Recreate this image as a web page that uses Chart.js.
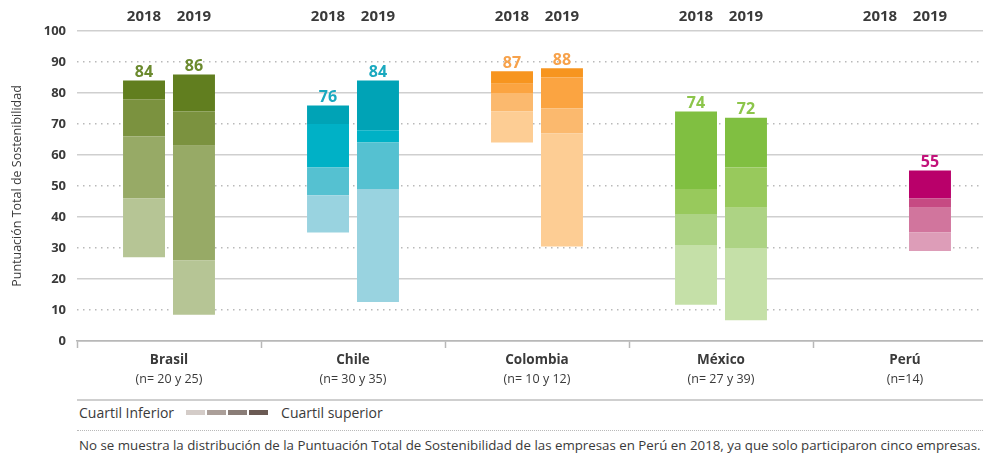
<!DOCTYPE html>
<html>
<head>
<meta charset="utf-8">
<script src="https://cdn.jsdelivr.net/npm/chart.js@4"></script>
<style>
  html, body { margin: 0; padding: 0; background: #fff; overflow: hidden; width: 983px; height: 459px; }
  body { position: relative; font-family: "Open Sans", sans-serif; color: #3a3a3a; }
  #wrap { position: absolute; left: 0; top: 0; width: 1000px; height: 395px; }
  .rule { position: absolute; left: 77px; width: 906px; }
  #solid { top: 399px; height: 2px; background: #cfcfcf; }
  #dots { top: 430px; border-top: 1.5px dotted #b9b9b9; }
  #legend { position: absolute; left: 79px; top: 403px; font-size: 14px; display: flex; align-items: center; }
  #legend .sw { display: inline-block; width: 19px; height: 5px; margin-right: 2px; }
  #note { position: absolute; left: 79px; top: 436px; font-size: 13.3px; white-space: nowrap; }
</style>
</head>
<body>
<div id="wrap"><canvas id="chart" width="1000" height="395"></canvas></div>
<div class="rule" id="solid"></div>
<div id="legend">
  <span>Cuartil Inferior</span>
  <span style="width:12px;display:inline-block"></span>
  <span class="sw" style="background:#d4ccc8"></span>
  <span class="sw" style="background:#ab9f99"></span>
  <span class="sw" style="background:#8a7d77"></span>
  <span class="sw" style="background:#6b5a54"></span>
  <span style="width:11px;display:inline-block"></span>
  <span>Cuartil superior</span>
</div>
<div class="rule" id="dots"></div>
<div id="note">No se muestra la distribución de la Puntuación Total de Sostenibilidad de las empresas en Perú en 2018, ya que solo participaron cinco empresas.</div>
<script>
// datos
const countries = ['Brasil', 'Chile', 'Colombia', 'México', 'Perú'];
const sampleSizes = ['(n= 20 y 25)', '(n= 30 y 35)', '(n= 10 y 12)', '(n= 27 y 39)', '(n=14)'];
const years = ['2018', '2019'];

const min2018 = [27, 35, 64, 11.7, null];
const q1_2018 = [46, 47, 74, 31, null];
const med2018 = [66, 56, 80, 41, null];
const q3_2018 = [78, 70, 83, 49, null];
const max2018 = [84, 76, 87, 74, null];

const min2019 = [8.5, 12.6, 30.5, 6.7, 29];
const q1_2019 = [26, 49, 67, 30, 35];
const med2019 = [63, 64, 75, 43, 43];
const q3_2019 = [74, 68, 85, 56, 46];
const max2019 = [86, 84, 88, 72, 55];

const yTicks = [0, 10, 20, 30, 40, 50, 60, 70, 80, 90, 100];

// colores por país, del cuartil inferior al superior
const shades = {
  Brasil: ['#b6c595', '#97aa66', '#7b923f', '#617e1f'],
  Chile: ['#99d3e0', '#55c1d1', '#00b1c6', '#00a3b6'],
  Colombia: ['#fdcd94', '#fbb96e', '#fba441', '#f7951f'],
  'México': ['#c5e0a8', '#add384', '#98c95c', '#80bf41'],
  'Perú': ['#dd9db8', '#d1759d', '#c64a83', '#b9006a'],
};
const labelColors = ['#6b8a2e', '#1aa9bf', '#f7a24b', '#8cc54a', '#c2127a'];

const bounds = {
  '2018': [min2018, q1_2018, med2018, q3_2018, max2018],
  '2019': [min2019, q1_2019, med2019, q3_2019, max2019],
};

function floating(lo, hi) {
  return lo.map((v, i) => (v == null || hi[i] == null ? null : [v, hi[i]]));
}

const datasets = [];
years.forEach((yr) => {
  const b = bounds[yr];
  for (let q = 0; q < 4; q++) {
    datasets.push({
      label: yr + ' Q' + (q + 1),
      stack: yr,
      data: floating(b[q], b[q + 1]),
      backgroundColor: countries.map((c) => shades[c][q]),
      borderWidth: 0,
      categoryPercentage: 0.543,
      barPercentage: 0.84,
    });
  }
});

const labelsPlugin = {
  id: 'labelsPlugin',
  afterDatasetsDraw(chart) {
    const { ctx, chartArea, scales } = chart;
    ctx.save();
    ctx.textAlign = 'center';
    years.forEach((yr, yi) => {
      const meta = chart.getDatasetMeta(yi * 4 + 3);
      const maxs = bounds[yr][4];
      meta.data.forEach((el, i) => {
        let x = el.x;
        if (!isFinite(x)) x = scales.x.getPixelForValue(i) + (yi === 0 ? -25 : 25);
        ctx.font = 'bold 15px "Open Sans"';
        ctx.fillStyle = '#3a3a3a';
        ctx.textBaseline = 'middle';
        ctx.fillText(yr, x, chartArea.top - 14);
        if (maxs[i] != null) {
          ctx.font = 'bold 16px "Open Sans"';
          ctx.fillStyle = labelColors[i];
          ctx.textBaseline = 'bottom';
          ctx.fillText(Math.round(maxs[i]), x, el.y);
        }
      });
    });
    ctx.font = '12.5px "Open Sans"';
    ctx.fillStyle = '#3a3a3a';
    ctx.textBaseline = 'middle';
    sampleSizes.forEach((s, i) => {
      ctx.fillText(s, scales.x.getPixelForTick(i), scales.x.top + 38);
    });
    ctx.restore();
  },
};

new Chart(document.getElementById('chart'), {
  type: 'bar',
  data: { labels: countries, datasets },
  plugins: [labelsPlugin],
  options: {
    responsive: false,
    animation: false,
    layout: { padding: { top: 31, right: 3, left: 0, bottom: 0 } },
    plugins: { legend: { display: false }, tooltip: { enabled: false } },
    scales: {
      x: {
        stacked: true,
        offset: true,
        grid: { offset: true, drawOnChartArea: false, drawTicks: true, tickLength: 7, tickColor: '#b8b8b8', tickWidth: 1.5 },
        border: { display: true, color: '#b8b8b8', width: 1.5 },
        ticks: { padding: 4, color: '#3a3a3a', font: { family: 'Open Sans', size: 13.5, weight: 'bold' } },
        afterFit: (s) => { s.height = 54; },
      },
      y: {
        stacked: false,
        min: 0,
        max: 100,
        afterBuildTicks: (s) => { s.ticks = yTicks.map((v) => ({ value: v })); },
        grid: {
          drawTicks: false,
          lineWidth: 1.5,
          color: (c) => (c.tick.value === 0 ? '#b8b8b8' : c.tick.value % 20 === 0 ? '#cfcfcf' : 'transparent'),
        },
        border: { display: false },
        ticks: { padding: 11, color: '#3a3a3a', font: { family: 'Open Sans', size: 13, weight: 'bold' } },
        title: {
          display: true,
          text: 'Puntuación Total de Sostenibilidad',
          color: '#3a3a3a',
          font: { family: 'Open Sans', size: 12.5 },
          padding: { top: 10, bottom: 0 },
        },
        afterFit: (s) => { s.width = 77; },
      },
      yDots: {
        position: 'left',
        min: 0,
        max: 100,
        afterBuildTicks: (s) => { s.ticks = yTicks.map((v) => ({ value: v })); },
        ticks: { display: false },
        grid: {
          drawTicks: false,
          lineWidth: 1.5,
          color: (c) => (c.tick.value % 20 === 10 ? '#b9b9b9' : 'transparent'),
        },
        border: { display: false, dash: [1.5, 4.5] },
        afterFit: (s) => { s.width = 0; },
      },
    },
  },
});
</script>
</body>
</html>
